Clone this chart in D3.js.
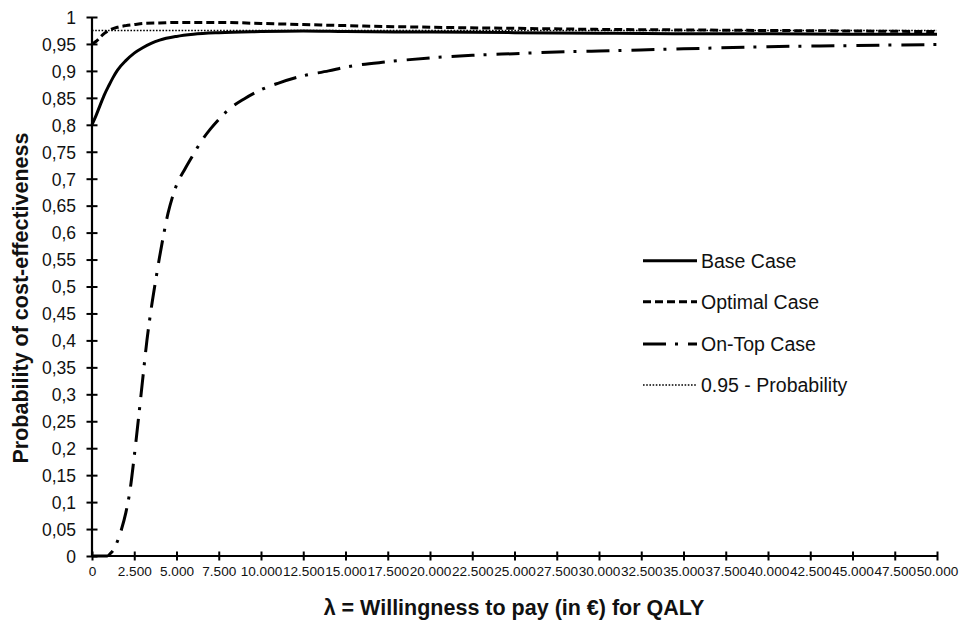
<!DOCTYPE html>
<html>
<head>
<meta charset="utf-8">
<script src="https://cdn.jsdelivr.net/npm/d3@7"></script>
<style>
  html, body { margin: 0; padding: 0; background: #fff; }
  svg { display: block; font-family: "Liberation Sans", Arial, sans-serif; }
</style>
</head>
<body>
<svg id="chart" width="960" height="622"></svg>
<script>
// ---- data ----
const baseX    = [0,250,500,750,1000,1250,1500,2000,2500,3000,3500,4000,5000,6000,7500,10000,12500,15000,20000,25000,30000,35000,40000,45000,50000];
const baseY    = [0.80,0.818,0.838,0.857,0.873,0.888,0.901,0.919,0.933,0.943,0.951,0.957,0.964,0.968,0.971,0.973,0.974,0.973,0.972,0.971,0.970,0.969,0.969,0.968,0.968];

const optX     = [0,250,500,750,1000,1500,2000,2500,3000,4000,5000,6000,7500,10000,12500,15000,20000,25000,30000,35000,40000,45000,50000];
const optY     = [0.95,0.955,0.963,0.970,0.975,0.981,0.984,0.986,0.988,0.989,0.990,0.990,0.990,0.988,0.986,0.984,0.981,0.979,0.977,0.976,0.975,0.974,0.973];

const onTopX   = [0,500,900,1100,1300,1500,1750,2000,2250,2500,2750,3000,3250,3500,3750,4000,4250,4500,4750,5000,5500,6000,6500,7000,7500,8000,9000,10000,11000,12500,14000,15000,17500,20000,22500,25000,27500,30000,35000,40000,45000,50000];
const onTopY   = [0,0,0,0.005,0.013,0.027,0.05,0.08,0.122,0.185,0.255,0.328,0.400,0.458,0.508,0.555,0.598,0.636,0.665,0.688,0.718,0.745,0.771,0.792,0.81,0.826,0.848,0.865,0.877,0.891,0.900,0.907,0.917,0.924,0.929,0.932,0.935,0.937,0.941,0.945,0.947,0.949];

const thresholdX = [0, 50000];
const thresholdY = [0.975, 0.975];

const seriesNames = ["Base Case", "Optimal Case", "On-Top Case", "0.95 - Probability"];

const xTickValues = d3.range(0, 50001, 2500);
const xTickLabels = ["0","2.500","5.000","7.500","10.000","12.500","15.000","17.500","20.000","22.500","25.000","27.500","30.000","32.500","35.000","37.500","40.000","42.500","45.000","47.500","50.000"];
const yTickValues = d3.range(0, 21).map(i => +(i * 0.05).toFixed(2));
const yTickLabels = ["0","0,05","0,1","0,15","0,2","0,25","0,3","0,35","0,4","0,45","0,5","0,55","0,6","0,65","0,7","0,75","0,8","0,85","0,9","0,95","1"];

const xTitle = "λ = Willingness to pay (in €) for QALY";
const yTitle = "Probability of cost-effectiveness";

// ---- layout ----
const svg = d3.select("#chart");
const mLeft = 92, mRight = 937, mTop = 17, mBottom = 556;

const x = d3.scaleLinear().domain([0, 50000]).range([mLeft, mRight]);
const y = d3.scaleLinear().domain([0, 1]).range([mBottom, mTop]);

// axes
const yAxis = d3.axisLeft(y)
  .tickValues(yTickValues)
  .tickFormat((d, i) => yTickLabels[i])
  .tickSizeOuter(0);
const gy = svg.append("g").attr("transform", `translate(${mLeft},0)`).call(yAxis);
gy.select(".domain").attr("stroke", "#000").attr("stroke-width", 2.2).attr("d", `M0,${mBottom}V${mTop}`);
gy.selectAll(".tick line").attr("x1", -5.5).attr("x2", 5.5).attr("stroke", "#000").attr("stroke-width", 2);
gy.selectAll(".tick text").attr("x", -16).attr("dy", "0.36em")
  .attr("font-size", 17.5).attr("fill", "#111").attr("font-family", "Liberation Sans, Arial, sans-serif");

const xAxis = d3.axisBottom(x)
  .tickValues(xTickValues)
  .tickFormat((d, i) => xTickLabels[i])
  .tickSizeOuter(0);
const gx = svg.append("g").attr("transform", `translate(0,${mBottom})`).call(xAxis);
gx.select(".domain").attr("stroke", "#000").attr("stroke-width", 2.2).attr("d", `M${mLeft},0H${mRight}`);
gx.selectAll(".tick line").attr("y1", -4.5).attr("y2", 4.5).attr("stroke", "#000").attr("stroke-width", 2);
gx.selectAll(".tick text").attr("y", 10).attr("dy", "0.71em")
  .attr("font-size", 13.6).attr("fill", "#111").attr("font-family", "Liberation Sans, Arial, sans-serif");

// lines
const styles = [
  { width: 3,   dash: null },
  { width: 3,   dash: "8,4" },
  { width: 3,   dash: "23,9,3,10" },
  { width: 1.6, dash: "1.6,1.6" }
];
const seriesData = [
  d3.zip(baseX, baseY),
  d3.zip(optX, optY),
  d3.zip(onTopX, onTopY),
  d3.zip(thresholdX, thresholdY)
];
const line = d3.line().x(d => x(d[0])).y(d => y(d[1])).curve(d3.curveMonotoneX);

const drawOrder = [2, 3, 1, 0];
drawOrder.forEach(i => {
  svg.append("path")
    .datum(seriesData[i])
    .attr("fill", "none")
    .attr("stroke", "#000")
    .attr("stroke-width", styles[i].width)
    .attr("stroke-dasharray", styles[i].dash)
    .attr("d", line);
});

// legend
const legendY = [260.7, 301.7, 344, 385];
const lg = svg.append("g");
seriesNames.forEach((name, i) => {
  lg.append("line")
    .attr("x1", 643).attr("x2", 697)
    .attr("y1", legendY[i]).attr("y2", legendY[i])
    .attr("stroke", "#000")
    .attr("stroke-width", styles[i].width)
    .attr("stroke-dasharray", styles[i].dash);
  lg.append("text")
    .attr("x", 701).attr("y", legendY[i]).attr("dy", "0.36em")
    .attr("font-size", 19.5).attr("fill", "#111")
    .text(name);
});

// titles
svg.append("text")
  .attr("x", 514).attr("y", 615)
  .attr("text-anchor", "middle")
  .attr("font-size", 21.5).attr("font-weight", "bold").attr("fill", "#111")
  .text(xTitle);

svg.append("text")
  .attr("transform", "translate(28,298) rotate(-90)")
  .attr("text-anchor", "middle")
  .attr("font-size", 21.5).attr("font-weight", "bold").attr("fill", "#111")
  .text(yTitle);
</script>
</body>
</html>
